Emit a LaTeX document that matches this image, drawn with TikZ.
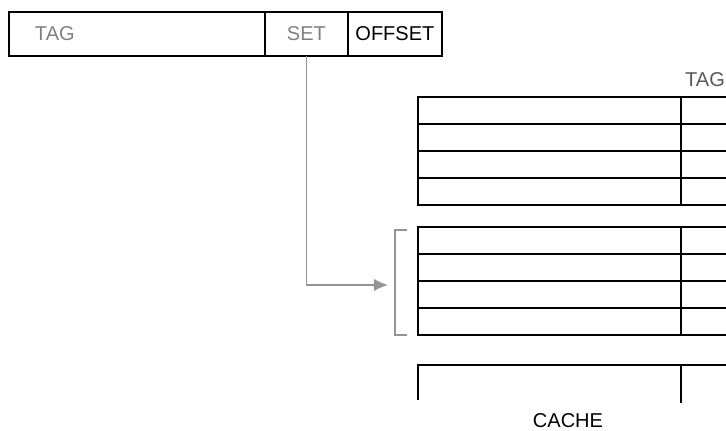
\documentclass[tikz,border=0pt]{standalone}
\usepackage{fontspec}
\setmainfont{Liberation Sans}
\usetikzlibrary{arrows.meta}
\begin{document}
\begin{tikzpicture}[x=0.02cm,y=-0.02cm,
  every node/.style={font=\fontsize{11.4}{13}\selectfont},
  field/.style={draw,line width=1.1pt,minimum height=0.88cm,inner sep=0pt,outer sep=0pt,anchor=north west},
  pale/.style={text=black!50},
  link/.style={draw=black!42,line width=0.9pt,-{Latex[length=8pt,width=7pt]}},
  cacheline/.style={line width=1.1pt}]
 \clip (0,0) rectangle (726,430);
 % address fields
 \node[field,pale,minimum width=5.12cm,text width=4.08cm,inner xsep=0.52cm,align=left] (tag) at (9,12) {TAG};
 \node[field,pale,minimum width=1.66cm] (set) at (tag.north east) {SET};
 \node[field,minimum width=1.88cm] (offset) at (set.north east) {OFFSET};
 % cache blocks
 \foreach \top in {97,227} {
  \draw[cacheline] (418,\top) rectangle (740,\top+108);
  \foreach \row in {1,2,3}
   \draw[cacheline] (418,\top+27*\row) -- (740,\top+27*\row);
  \draw[cacheline] (681,\top) -- (681,\top+108);
 }
 \draw[cacheline] (418,400) -- (418,365) -- (740,365);
 \draw[cacheline] (681,365) -- (681,403);
 % selected set
 \coordinate (entry) at (388,285);
 \draw[link] (set.south) |- (entry);
 \draw[draw=black!42,line width=0.9pt] (407,230) -| (395,335) -- (407,335);
 \node[text=black!65] (tagcol) at (705,80) {TAG};
 \node (cachename) at (568,421) {CACHE};
\end{tikzpicture}
\end{document}
